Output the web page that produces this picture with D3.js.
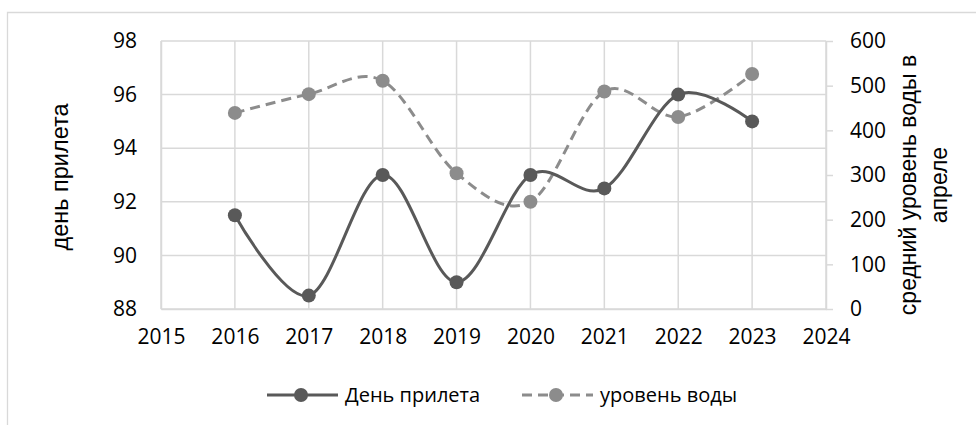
<!DOCTYPE html>
<html>
<head>
<meta charset="utf-8">
<script src="https://cdn.jsdelivr.net/npm/d3@7"></script>
<style>
  body { margin: 0; background: #fff; }
  svg { display: block; }
</style>
</head>
<body>
<div id="chart"></div>
<script>
const years = [2016, 2017, 2018, 2019, 2020, 2021, 2022, 2023];
const arrivalDay = [91.5, 88.5, 93, 89, 93, 92.5, 96, 95];
const waterLevel = [439, 481, 511, 304, 240, 487, 430, 526];
const yearTicks = [2015, 2016, 2017, 2018, 2019, 2020, 2021, 2022, 2023, 2024];
const dayTicks = [88, 90, 92, 94, 96, 98];
const waterTicks = [0, 100, 200, 300, 400, 500, 600];
const seriesNames = ["День прилета", "уровень воды"];

const width = 976;
const height = 425;
const tickFont = "Open Sans, Liberation Sans, sans-serif";
const titleFont = "Liberation Sans, Arial, sans-serif";
const darkGray = "#595959";
const midGray = "#8c8c8c";
const gridColor = "#d9d9d9";

const svg = d3
  .select("#chart")
  .append("svg")
  .attr("width", width)
  .attr("height", height);

// рамка диаграммы (обрезана справа и снизу)
svg.append("path")
  .attr("d", `M7.5,${height} V12.5 H${width}`)
  .attr("fill", "none")
  .attr("stroke", gridColor)
  .attr("stroke-width", 1.3);

const x = d3.scaleLinear().domain([2015, 2024]).range([161, 826]);
const yDay = d3.scaleLinear().domain([88, 98]).range([309, 41]);
const yWater = d3.scaleLinear().domain([0, 600]).range([309, 41]);

// сетка
const grid = svg.append("g").attr("stroke", gridColor).attr("stroke-width", 1.5);
grid.selectAll(".vx")
  .data(yearTicks)
  .join("line")
  .attr("x1", (d) => x(d)).attr("x2", (d) => x(d))
  .attr("y1", yDay(98)).attr("y2", yDay(88));
grid.selectAll(".hy")
  .data(dayTicks)
  .join("line")
  .attr("x1", x(2015)).attr("x2", x(2024))
  .attr("y1", (d) => yDay(d)).attr("y2", (d) => yDay(d));

// оси
const xAxis = svg.append("g")
  .attr("transform", `translate(0,${yDay(88)})`)
  .call(d3.axisBottom(x).tickValues(yearTicks).tickFormat(d3.format("d")).tickSize(0).tickPadding(22));

const leftAxis = svg.append("g")
  .attr("transform", `translate(${x(2015)},0)`)
  .call(d3.axisLeft(yDay).tickValues(dayTicks).tickSize(0).tickPadding(24));

const rightAxis = svg.append("g")
  .attr("transform", `translate(${x(2024)},0)`)
  .call(d3.axisRight(yWater).tickValues(waterTicks).tickSize(7).tickPadding(17).tickSizeOuter(0));

[xAxis, leftAxis, rightAxis].forEach((g) => {
  g.selectAll("text")
    .attr("fill", "#000")
    .style("font-family", tickFont)
    .style("font-size", "21px");
  g.select(".domain").attr("stroke", gridColor).attr("stroke-width", 1.5);
  g.selectAll(".tick line").attr("stroke", gridColor).attr("stroke-width", 1.5);
});
xAxis.selectAll("text").attr("dy", "0.62em");

// подписи осей
svg.append("text")
  .attr("transform", `translate(68,177) rotate(-90)`)
  .attr("text-anchor", "middle")
  .style("font-family", titleFont)
  .style("font-size", "23.5px")
  .text("день прилета");

const rightTitle = svg.append("text")
  .attr("transform", `translate(916,185) rotate(-90)`)
  .attr("text-anchor", "middle")
  .style("font-family", titleFont)
  .style("font-size", "23px");
rightTitle.append("tspan").attr("x", 0).attr("dy", "0").text("средний уровень воды в");
rightTitle.append("tspan").attr("x", 0).attr("dy", "1.36em").text("апреле");

// линии
const curve = d3.curveCatmullRom.alpha(0);
const dayLine = d3.line().curve(curve).x((d, i) => x(years[i])).y((d) => yDay(d));
const waterLine = d3.line().curve(curve).x((d, i) => x(years[i])).y((d) => yWater(d));

svg.append("path")
  .attr("d", waterLine(waterLevel))
  .attr("fill", "none")
  .attr("stroke", midGray)
  .attr("stroke-width", 3)
  .attr("stroke-dasharray", "10,6");

svg.append("g")
  .selectAll("circle")
  .data(waterLevel)
  .join("circle")
  .attr("cx", (d, i) => x(years[i]))
  .attr("cy", (d) => yWater(d))
  .attr("r", 7)
  .attr("fill", midGray);

svg.append("path")
  .attr("d", dayLine(arrivalDay))
  .attr("fill", "none")
  .attr("stroke", darkGray)
  .attr("stroke-width", 3);

svg.append("g")
  .selectAll("circle")
  .data(arrivalDay)
  .join("circle")
  .attr("cx", (d, i) => x(years[i]))
  .attr("cy", (d) => yDay(d))
  .attr("r", 7)
  .attr("fill", darkGray);

// легенда
const legendItems = [
  { name: seriesNames[0], color: darkGray, dash: null, x0: 267 },
  { name: seriesNames[1], color: midGray, dash: "10,6", x0: 522 },
];
const legend = svg.append("g").attr("transform", "translate(0,395)");
legendItems.forEach((item) => {
  const g = legend.append("g");
  g.append("line")
    .attr("x1", item.x0).attr("x2", item.x0 + 71)
    .attr("stroke", item.color)
    .attr("stroke-width", 3)
    .attr("stroke-dasharray", item.dash);
  g.append("circle").attr("cx", item.x0 + 34).attr("r", 7).attr("fill", item.color);
  g.append("text")
    .attr("x", item.x0 + 78)
    .attr("dy", "0.35em")
    .style("font-family", tickFont)
    .style("font-size", "20px")
    .text(item.name);
});
</script>
</body>
</html>
